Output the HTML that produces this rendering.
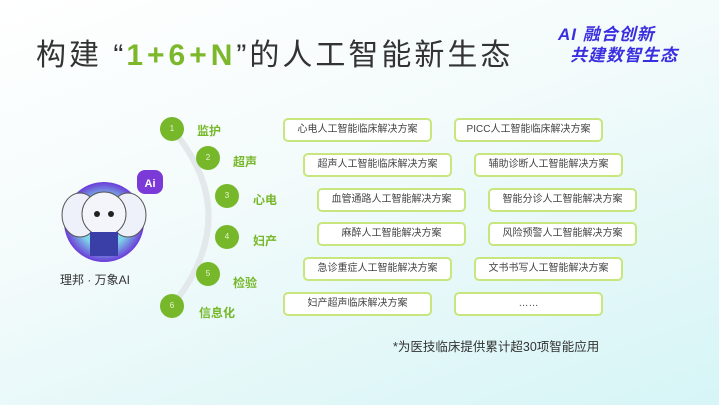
<!DOCTYPE html>
<html><head><meta charset="utf-8"><style>
*{margin:0;padding:0;box-sizing:border-box}
body{width:719px;height:405px;overflow:hidden;position:relative;font-family:"Liberation Sans","Noto Sans CJK SC",sans-serif;
background:linear-gradient(160deg,#ffffff 0%,#f4fbfb 40%,#e2f7f8 75%,#d6f5f7 100%);}
.t{position:absolute;left:36px;top:30px;font-size:30px;color:#333;letter-spacing:3px;white-space:nowrap}
.t b{color:#7cb82a;font-weight:bold;letter-spacing:4px}
.s{position:absolute;left:558px;top:24px;font-size:17px;font-weight:bold;font-style:italic;color:#3a2fe0;line-height:21px;letter-spacing:1px}
.box{position:absolute;width:149px;height:24px;border:2px solid #c8e67e;border-radius:5px;background:#fff;font-size:10px;color:#444;text-align:center;line-height:20px}
.c{position:absolute;width:24px;height:24px;border-radius:50%;background:#76b82a;color:#e8f5d0;font-size:8px;text-align:center;line-height:24px}
.l{position:absolute;font-size:12px;color:#76b82a;font-weight:bold;white-space:nowrap}
</style></head><body>
<div class="t">构建 “<b>1+6+N</b>”的人工智能新生态</div>
<div class="s">AI 融合创新<br><span style="margin-left:12px">共建数智生态</span></div>
<svg style="position:absolute;left:0;top:0" width="719" height="405">
<path d="M172 129 Q245 215 172 306" stroke="#e3e8ea" stroke-width="6" fill="none"/>
<defs><radialGradient id="g" cx="50%" cy="50%" r="50%"><stop offset="60%" stop-color="#7fd6e8"/><stop offset="100%" stop-color="#6a3bd8"/></radialGradient></defs>
<circle cx="104" cy="222" r="40" fill="url(#g)"/>
<ellipse cx="80" cy="215" rx="18" ry="22" fill="#eef0fa" stroke="#555" stroke-width="1"/>
<ellipse cx="128" cy="215" rx="18" ry="22" fill="#eef0fa" stroke="#555" stroke-width="1"/>
<ellipse cx="104" cy="214" rx="22" ry="22" fill="#f4f5fb" stroke="#555" stroke-width="1"/>
<rect x="90" y="232" width="28" height="24" fill="#3a3fa8"/>
<circle cx="97" cy="214" r="3" fill="#222"/><circle cx="111" cy="214" r="3" fill="#222"/>
<path d="M145 170 h10 a8 8 0 0 1 8 8 v8 a8 8 0 0 1-8 8 h-10 a8 8 0 0 1-8-8 v-8 a8 8 0 0 1 8-8z" fill="#7b3ad8"/>
<text x="150" y="187" font-size="11" font-weight="bold" fill="#fff" text-anchor="middle" font-family="Liberation Sans">Ai</text>
</svg>
<div style="position:absolute;left:60px;top:271px;font-size:12px;color:#333">理邦 · 万象AI</div>
<div class="c" style="left:160px;top:117px">1</div><div class="l" style="left:197px;top:122px">监护</div>
<div class="c" style="left:196px;top:146px">2</div><div class="l" style="left:233px;top:153px">超声</div>
<div class="c" style="left:215px;top:184px">3</div><div class="l" style="left:253px;top:191px">心电</div>
<div class="c" style="left:215px;top:225px">4</div><div class="l" style="left:253px;top:232px">妇产</div>
<div class="c" style="left:196px;top:262px">5</div><div class="l" style="left:233px;top:274px">检验</div>
<div class="c" style="left:160px;top:294px">6</div><div class="l" style="left:199px;top:304px">信息化</div>
<div class="box" style="left:283px;top:118px">心电人工智能临床解决方案</div>
<div class="box" style="left:454px;top:118px">PICC人工智能临床解决方案</div>
<div class="box" style="left:303px;top:153px">超声人工智能临床解决方案</div>
<div class="box" style="left:474px;top:153px">辅助诊断人工智能解决方案</div>
<div class="box" style="left:317px;top:188px">血管通路人工智能解决方案</div>
<div class="box" style="left:488px;top:188px">智能分诊人工智能解决方案</div>
<div class="box" style="left:317px;top:222px">麻醉人工智能解决方案</div>
<div class="box" style="left:488px;top:222px">风险预警人工智能解决方案</div>
<div class="box" style="left:303px;top:257px">急诊重症人工智能解决方案</div>
<div class="box" style="left:474px;top:257px">文书书写人工智能解决方案</div>
<div class="box" style="left:283px;top:292px">妇产超声临床解决方案</div>
<div class="box" style="left:454px;top:292px">……</div>
<div style="position:absolute;left:393px;top:336px;font-size:12.5px;color:#333">*为医技临床提供累计超30项智能应用</div>
</body></html>
